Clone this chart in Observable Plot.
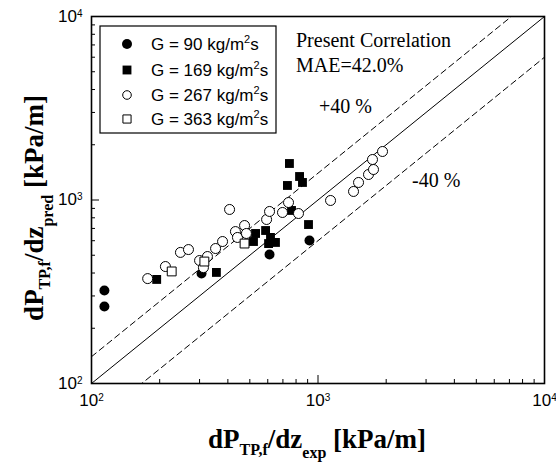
<!DOCTYPE html>
<html>
<head>
<meta charset="utf-8">
<script src="https://cdn.jsdelivr.net/npm/d3@7"></script>
<script src="https://cdn.jsdelivr.net/npm/@observablehq/plot@0.6"></script>
<style>
  body { margin: 0; background: white; }
  svg { display: block; }
</style>
</head>
<body>
<div id="chart"></div>
<script>
// ---- Data ----
const G90_x = [114, 114, 306, 611, 917];
const G90_y = [321, 263, 398, 505, 602];

const G169_x = [194, 356, 748, 829, 733, 854, 764, 908, 530, 519, 587, 617, 649, 605];
const G169_y = [369, 403, 1581, 1343, 1200, 1246, 877, 735, 657, 594, 682, 625, 587, 579];

const G267_x = [177, 212, 247, 268, 300, 312, 325, 353, 379, 407, 432, 441, 474, 483, 593, 611, 697, 741, 820, 1136, 1435, 1510, 1671, 1758, 1740, 1927];
const G267_y = [373, 434, 518, 537, 468, 428, 492, 544, 594, 888, 673, 625, 726, 657, 783, 866, 855, 969, 844, 994, 1113, 1246, 1377, 1466, 1662, 1838];

const G363_x = [226, 315, 474];
const G363_y = [408, 462, 579];

const seriesLabels = ["G = 90 kg/m", "G = 169 kg/m", "G = 267 kg/m", "G = 363 kg/m"];
const majorTicks = [100, 1000, 10000];
const minorTicks = [200, 300, 400, 500, 600, 700, 800, 900, 2000, 3000, 4000, 5000, 6000, 7000, 8000, 9000];
const refFactors = [1, 1.4, 0.6];   // y = x, +40 %, -40 %
const refRange = [100, 10000];

// ---- Build tables ----
const zip = (xs, ys) => xs.map((x, i) => ({x, y: ys[i]}));
const d90 = zip(G90_x, G90_y);
const d169 = zip(G169_x, G169_y);
const d267 = zip(G267_x, G267_y);
const d363 = zip(G363_x, G363_y);
const refLines = refFactors.flatMap(f => refRange.map(x => ({f, x, y: f * x})));

const W = 556, H = 462, mL = 91, mR = 12, mT = 16, mB = 79;
const fw = W - mL - mR, fh = H - mT - mB;

const plot = Plot.plot({
  width: W, height: H,
  marginLeft: mL, marginRight: mR, marginTop: mT, marginBottom: mB,
  x: {type: "log", domain: [100, 10000]},
  y: {type: "log", domain: [100, 10000]},
  style: {fontFamily: "'Liberation Sans', Arial, Helvetica, sans-serif", fontSize: "17px", background: "white", color: "black"},
  marks: [
    Plot.line(refLines.filter(d => d.f === 1), {x: "x", y: "y", stroke: "black", strokeWidth: 1, clip: true}),
    Plot.line(refLines.filter(d => d.f !== 1), {x: "x", y: "y", z: "f", stroke: "black", strokeWidth: 1, strokeDasharray: "6,4", clip: true}),
    // inward ticks
    Plot.ruleX(minorTicks, {x: d => d, insetTop: fh - 4, stroke: "black", strokeWidth: 1}),
    Plot.ruleX(majorTicks, {x: d => d, insetTop: fh - 8, stroke: "black", strokeWidth: 1}),
    Plot.ruleY(minorTicks, {y: d => d, insetRight: fw - 4, stroke: "black", strokeWidth: 1}),
    Plot.ruleY(majorTicks, {y: d => d, insetRight: fw - 8, stroke: "black", strokeWidth: 1}),
    Plot.axisX({ticks: majorTicks, tickSize: 0, tickPadding: 10, label: null,
      tickFormat: d => "10^" + Math.round(Math.log10(d))}),
    Plot.axisY({ticks: majorTicks, tickSize: 0, tickPadding: 9, label: null,
      tickFormat: d => "10^" + Math.round(Math.log10(d))}),
    Plot.dot(d90, {x: "x", y: "y", r: 5, symbol: "circle", fill: "black"}),
    Plot.dot(d169, {x: "x", y: "y", r: 5, symbol: "square", fill: "black"}),
    Plot.dot(d267, {x: "x", y: "y", r: 5, symbol: "circle", fill: "white", stroke: "black", strokeWidth: 1}),
    Plot.dot(d363, {x: "x", y: "y", r: 5, symbol: "square", fill: "white", stroke: "black", strokeWidth: 1}),
    Plot.frame({stroke: "black", strokeWidth: 1.6})
  ]
});

document.getElementById("chart").appendChild(plot);
const svg = d3.select(plot);

// superscript exponents on tick labels
svg.selectAll('g[aria-label="x-axis tick label"] text, g[aria-label="y-axis tick label"] text').each(function() {
  const t = d3.select(this);
  const parts = t.text().split("^");
  t.text(parts[0]);
  t.append("tspan").attr("font-size", 10).attr("dy", "-0.5em").text(parts[1]);
});

// ---- Legend ----
const lg = svg.append("g").attr("text-anchor", "start");
lg.append("rect").attr("x", 100).attr("y", 26).attr("width", 176).attr("height", 107)
  .attr("fill", "white").attr("stroke", "black").attr("stroke-width", 1.2);
const legendRows = [44, 70, 95, 119];
const legendSyms = [
  {type: d3.symbolCircle, r: 5, fill: "black", stroke: "none"},
  {type: d3.symbolSquare, r: 5, fill: "black", stroke: "none"},
  {type: d3.symbolCircle, r: 4.3, fill: "white", stroke: "black"},
  {type: d3.symbolSquare, r: 4.6, fill: "white", stroke: "black"}
];
seriesLabels.forEach((lab, i) => {
  const s = legendSyms[i];
  lg.append("path").attr("transform", `translate(127,${legendRows[i]})`)
    .attr("d", d3.symbol(s.type, Math.PI * s.r * s.r)())
    .attr("fill", s.fill).attr("stroke", s.stroke).attr("stroke-width", 1);
  const t = lg.append("text").attr("x", 151).attr("y", legendRows[i] + 6).attr("text-anchor", "start")
    .attr("font-family", "'Liberation Sans', Arial, sans-serif").attr("font-size", 17).attr("fill", "black");
  t.append("tspan").text(lab);
  t.append("tspan").attr("font-size", 11).attr("dy", -7).text("2");
  t.append("tspan").attr("font-size", 17).attr("dy", 7).text("s");
});

// ---- Annotations ----
const serif = "'Liberation Serif', 'Times New Roman', Times, serif";
const ann = [
  {text: "Present Correlation", x: 296, y: 47},
  {text: "MAE=42.0%", x: 296, y: 72},
  {text: "+40 %", x: 319, y: 113},
  {text: "-40 %", x: 412, y: 187}
];
ann.forEach(a => svg.append("text").attr("x", a.x).attr("y", a.y).attr("text-anchor", "start")
  .attr("font-family", serif).attr("font-size", 20).attr("fill", "black").text(a.text));

// ---- Axis titles ----
function axisTitle(g, sub2) {
  g.attr("font-family", serif).attr("font-weight", "bold").attr("fill", "black").attr("text-anchor", "middle");
  const t = g.append("text").attr("font-size", 27);
  t.append("tspan").text("dP");
  t.append("tspan").attr("font-size", 16).attr("dy", 7).text("TP,f");
  t.append("tspan").attr("font-size", 27).attr("dy", -7).text("/dz");
  t.append("tspan").attr("font-size", 16).attr("dy", 10).text(sub2);
  t.append("tspan").attr("font-size", 27).attr("dy", -10).text(" [kPa/m]");
}
axisTitle(svg.append("g").attr("transform", "translate(317,448)"), "exp");
axisTitle(svg.append("g").attr("transform", "translate(43,208) rotate(-90)"), "pred");
</script>
</body>
</html>
